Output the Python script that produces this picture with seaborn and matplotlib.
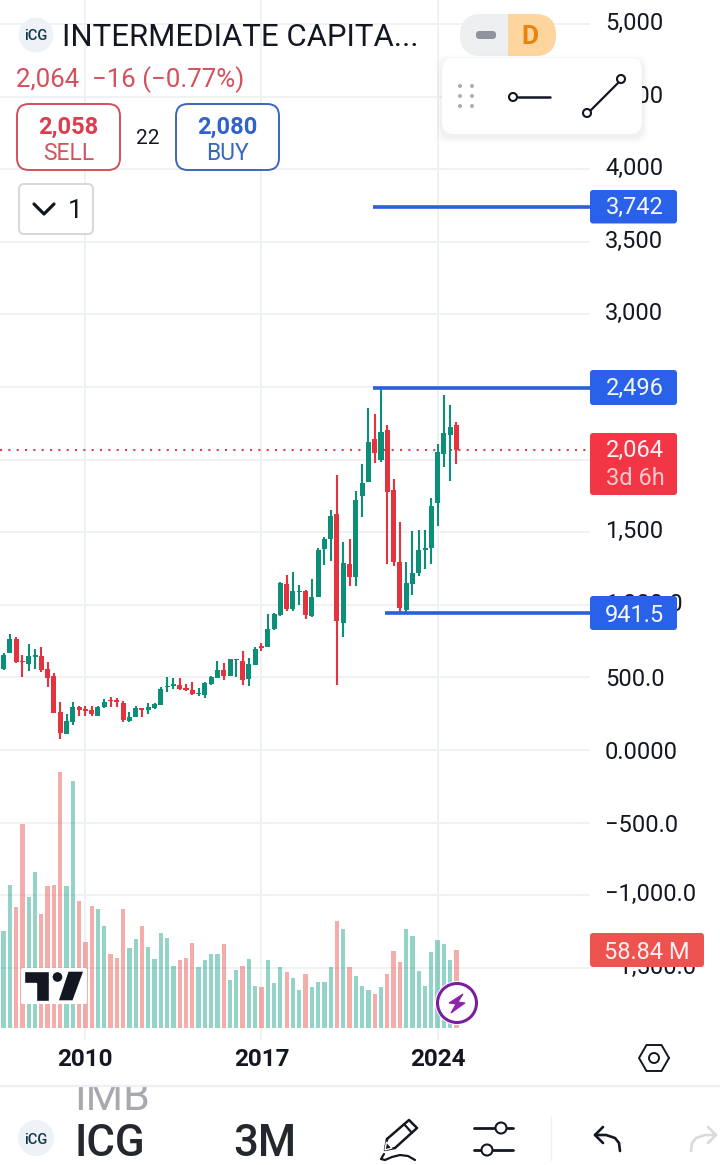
import numpy as np
import pandas as pd
import seaborn as sns
import matplotlib.pyplot as plt
from matplotlib.patches import FancyBboxPatch, Circle, Polygon, Rectangle
from matplotlib.transforms import Affine2D

# 1. Values (quarterly candles)
opens = [556, 670, 762, 613, 592, 643, 647, 556, 510, 259, 110, 195, 298, 280, 273, 236, 294, 347, 340, 326,
         202, 230, 287, 275, 287, 312, 432, 443, 445, 425, 413, 386, 381, 452, 498, 551, 512, 618, 613, 491,
         588, 719, 707, 831, 930, 1143, 969, 1086, 1097, 923, 1056, 1384, 1453, 1625, 872, 1281, 1194, 1752,
         1848, 2140, 1997, 2204, 1791, 1297, 964, 1143, 1217, 1380, 1393, 1703, 2039, 2172, 2238]
highs = [670, 799, 776, 654, 730, 693, 707, 604, 533, 331, 248, 331, 303, 303, 303, 303, 351, 363, 356, 337,
         259, 303, 289, 321, 326, 432, 500, 498, 494, 455, 468, 425, 471, 510, 613, 597, 624, 624, 682, 631,
         707, 739, 937, 941, 1159, 1205, 1224, 1136, 1102, 1178, 1389, 1465, 1653, 1894, 1430, 1453, 1784, 1970,
         2353, 2314, 2491, 2238, 1864, 1568, 1297, 1508, 1515, 1515, 1733, 2105, 2445, 2376, 2261]
lows = [551, 670, 597, 505, 546, 560, 539, 436, 257, 78, 110, 172, 236, 236, 236, 236, 292, 298, 298, 191,
        193, 230, 230, 248, 280, 310, 402, 418, 413, 409, 379, 372, 356, 448, 494, 482, 510, 505, 448, 441,
        585, 684, 707, 826, 923, 960, 960, 999, 900, 914, 1056, 1274, 1302, 448, 781, 1132, 1132, 1607,
        1848, 1979, 1986, 1281, 1270, 953, 953, 1068, 1198, 1244, 1281, 1543, 1947, 1853, 1970]
closes = [654, 762, 608, 604, 647, 654, 551, 494, 257, 119, 200, 294, 275, 271, 246, 296, 333, 337, 331, 207,
          230, 287, 275, 294, 315, 420, 441, 452, 418, 413, 383, 395, 459, 500, 551, 512, 624, 624, 482, 592,
          693, 705, 831, 937, 1148, 969, 1097, 1097, 930, 1056, 1377, 1453, 1612, 891, 1286, 1189, 1722, 1837,
          2119, 2043, 2188, 1779, 1297, 976, 1148, 1217, 1377, 1389, 1680, 2050, 2181, 2222, 2064]
volumes = [73, 108, 91, 154, 99, 118, 86, 107, 108, 193, 107, 186, 96, 65, 92, 90, 77, 56, 53, 90,
           60, 67, 77, 61, 52, 72, 68, 47, 51, 53, 64, 46, 51, 56, 56, 63, 36, 44, 47, 52,
           32, 31, 51, 34, 46, 42, 38, 29, 41, 31, 35, 35, 46, 81, 75, 46, 39, 32, 29, 26,
           31, 41, 58, 50, 75, 69, 43, 32, 57, 66, 63, 51, 58.84]

price_ticks = [5000, 4500, 4000, 3500, 3000, 2500, 2000, 1500, 1000, 500, 0, -500, -1000, -1500]
price_labels = ["5,000", "4,500", "4,000", "3,500", "3,000", "2,500", "2,000", "1,500", "1,000.0",
                "500.0", "0.0000", "\u2212500.0", "\u22121,000.0", "\u22121,500.0"]
year_ticks = [13, 41, 69]
year_labels = ["2010", "2017", "2024"]

level_values = [3742, 2496, 941.5]
level_starts = [58.7, 58.7, 60.6]
level_labels = ["3,742", "2,496", "941.5"]
last_price = 2064

GREEN = "#0B8F78"
RED = "#E5323F"
BLUE = "#2A60D8"
INK = "#131722"
GRID = "#EEF2F3"

df = pd.DataFrame({"i": range(len(opens)), "open": opens, "high": highs, "low": lows,
                   "close": closes, "volume": volumes})
df["up"] = df["close"] >= df["open"]

# 2. Figure and axes (pixel box of the chart pane: x 0-590, y 0-1040)
sns.set_theme(style="white")
plt.rcParams["font.family"] = ["Roboto", "DejaVu Sans"]
W, H = 720, 1165
fig = plt.figure(figsize=(W / 100, H / 100), dpi=100)

ax = fig.add_axes([0, (H - 1040) / H, 590 / W, 1040 / H])
ax.set_xlim(-3.6 / 6.29, (590 - 3.6) / 6.29)
ax.set_ylim(-290 / 0.1452, 750 / 0.1452)
ax.grid(True, color=GRID, lw=1.4)
ax.set_axisbelow(True)
for s in ax.spines.values():
    s.set_visible(False)

ax.yaxis.tick_right()
ax.set_yticks(price_ticks)
ax.set_yticklabels(price_labels, fontsize=17, color=INK)
ax.set_xticks(year_ticks)
ax.set_xticklabels(year_labels, fontsize=17.5, fontweight="bold", color=INK)
ax.tick_params(axis="y", length=0, pad=10.8)
ax.tick_params(axis="x", length=0, pad=6)
# the app draws labels with a comma a little higher
for lab in ax.get_yticklabels():
    if "," in lab.get_text():
        lab.set_transform(lab.get_transform() + Affine2D().translate(0, 3))

# Volume sits in its own axes, sharing the time scale
vol_ax = fig.add_axes([0, (H - 1028) / H, 590 / W, 1028 / H])
vol_ax.patch.set_alpha(0)
sns.barplot(data=df, x="i", y="volume", hue="up", palette={True: "#089981", False: "#E8423F"},
            native_scale=True, dodge=False, width=0.68, alpha=0.43, saturation=1, legend=False,
            linewidth=0, edgecolor="none", ax=vol_ax)
vol_ax.set_xlim(ax.get_xlim())
vol_ax.set_ylim(0, 1028 * 0.754)
vol_ax.axis("off")

# Candles
colors = df["up"].map({True: GREEN, False: RED})
ax.vlines(df["i"], df["low"], df["high"], colors=colors, lw=1.5, zorder=3)
ax.bar(df["i"], (df["close"] - df["open"]).abs().clip(lower=10), bottom=df[["open", "close"]].min(axis=1),
       width=0.8, color=colors, linewidth=0, edgecolor="none", zorder=4)

ax.axhline(last_price, color="#D8434F", lw=1.5, ls=(0, (1, 3)), zorder=2)
for val, start in zip(level_values, level_starts):
    ax.hlines(val, start, ax.get_xlim()[1], color=BLUE, lw=2.6, zorder=5)

# 3. App chrome on a full-figure layer in pixel coordinates
ui = fig.add_axes([0, 0, 1, 1])
ui.set_xlim(0, W)
ui.set_ylim(H, 0)
ui.axis("off")
ui.patch.set_alpha(0)


def box(x0, y0, x1, y1, r=8, fc="white", ec="none", lw=0, z=5, alpha=None):
    p = FancyBboxPatch((x0, y0), x1 - x0, y1 - y0, boxstyle=f"round,pad=0,rounding_size={r}",
                       fc=fc, ec=ec, lw=lw, zorder=z, alpha=alpha)
    ui.add_patch(p)
    return p


def txt(x, y, s, size, color=INK, ha="center", weight="normal", z=8, alpha=None):
    return ui.text(x, y, s, fontsize=size, color=color, ha=ha, va="center_baseline",
                   fontweight=weight, zorder=z, alpha=alpha)


def line(xs, ys, color=INK, lw=1.8, z=8):
    ui.plot(xs, ys, color=color, lw=lw, zorder=z, solid_capstyle="round", solid_joinstyle="round")


# header
ui.add_patch(Circle((36, 35), 17.5, fc="#EEF2F7", ec="none", zorder=6))
txt(36, 35, "iCG", 10.5, color="#12394A", weight="medium")
txt(62, 35, "INTERMEDIATE CAPITA...", 22.4, ha="left")
txt(16, 77, "2,064  \u221216 (\u22120.77%)", 18.6, color="#D4505C", ha="left")

box(17, 104, 120, 170, r=12, ec="#D2505C", lw=1.4)
txt(68.5, 125, "2,058", 17, color="#DB3F4D", weight="bold")
txt(68.5, 151, "SELL", 16.5, color="#CE5560")
txt(148, 137, "22", 15)
box(176, 104, 279, 170, r=12, ec="#3B66C0", lw=1.4)
txt(227.5, 125, "2,080", 17, color="#2F62CE", weight="bold")
txt(227.5, 151, "BUY", 16.5, color="#3868BE")

box(19, 184, 93, 234, r=5, ec="#D5D9DC", lw=1.4)
line([34, 44, 54], [204, 214, 204], lw=2.3)
txt(75, 208, "1", 19)

# D pill
box(460, 14, 556, 56, r=21, fc="#EDEFF1")
ui.add_patch(Rectangle((508, 14), 27, 42, fc="#FFD59E", ec="none", zorder=5))
box(515, 14, 556, 56, r=21, fc="#FFD59E")
box(476, 31, 496, 39, r=3.5, fc="#8F939B", z=6)
txt(530, 35, "D", 19, color="#E8830C", weight="bold")

# floating line tool bar
for k, a in zip([6, 4, 2], [0.012, 0.018, 0.025]):
    box(442 - k, 58 - k + 3, 642 + k, 134 + k + 3, r=12, fc="black", z=6, alpha=a)
box(442, 58, 642, 134, r=12, z=7)
for dx in [460, 472]:
    for dy in [86, 96, 106]:
        ui.add_patch(Circle((dx, dy), 2, fc="#A9ADB3", ec="none", zorder=8))
line([518, 550], [97, 97], lw=1.8)
line([590, 621], [111, 80], lw=1.6)
for cx, cy in [(513, 97), (587, 113), (621, 79)]:
    ui.add_patch(Circle((cx, cy), 4, fc="white", ec=INK, lw=1.5, zorder=9))

# price tags
level_boxes = [(190, 223.5), (370, 405), (596, 630)]
level_text_y = [205, 386, 613]
for (y0, y1), ty, s in zip(level_boxes, level_text_y, level_labels):
    box(590, y0, 677, y1, r=3, fc="#2962E8", z=7)
    txt(635, ty, s, 17, color="#F3F6FF")
box(590, 433, 677, 495, r=3, fc="#F23645", z=7)
txt(635, 448, "2,064", 17, color="#FFF1F1")
txt(635, 476, "3d 6h", 17, color="#FFC9CC")
box(590, 933, 704, 967, r=3, fc="#EF5350", z=7)
txt(647, 950, "58.84 M", 17, color="#FFF1F0")

# TV logo
box(21, 968, 87, 1004, r=2, z=6)
ui.add_patch(Polygon([(24, 971), (49, 971), (49, 1001), (36, 1001), (36, 983), (24, 983)], fc=INK, zorder=7))
ui.add_patch(Circle((57.5, 977), 5.5, fc=INK, zorder=7))
ui.add_patch(Polygon([(68, 971), (84, 971), (73, 1001), (58, 1001)], fc=INK, zorder=7))

# lightning badge
ui.add_patch(Circle((457, 1003), 22, fc="white", ec="none", zorder=6))
ui.add_patch(Circle((457, 1003), 19.5, fc="white", ec="#7B1FA2", lw=2.2, zorder=7))
ui.add_patch(Polygon([(463, 994), (449, 1003), (456, 1004), (451, 1013), (465, 1003), (458, 1002)],
                     fc="#8E24AA", ec="#8E24AA", lw=0.8, zorder=8))

# hexagon settings
hx = 654 + 15 * np.cos(np.arange(7) * np.pi / 3)
hy = 1058 + 15 * np.sin(np.arange(7) * np.pi / 3)
line(hx, hy, lw=1.4)
ui.add_patch(Circle((654, 1058), 5, fc="white", ec=INK, lw=1.4, zorder=9))

# bottom bar
txt(74, 1094, "IMB", 31, color="#8A8D93", ha="left", z=6, alpha=0.75)
ui.add_patch(Rectangle((0, 1071), W, 14, fc="white", ec="none", zorder=7))
line([0, W], [1085.5, 1085.5], color="#EDF0F2", lw=1.6, z=8)
ui.add_patch(Circle((36, 1138), 18, fc="#EEF2F7", ec="none", zorder=6))
txt(36, 1138, "iCG", 10.5, color="#12394A", weight="medium")
txt(74, 1140, "ICG", 31.5, color="#24272E", ha="left", weight="medium")
txt(233, 1140, "3M", 31.5, color="#24272E", ha="left", weight="medium")

# pencil
line([387, 409, 417, 395, 385, 387], [1139, 1120, 1128, 1148, 1150, 1139], lw=1.8)
line([404, 412], [1124, 1133], lw=1.6)
ui.add_patch(Polygon([(385, 1150), (386.5, 1142), (392, 1148)], fc=INK, zorder=8))
line([384, 381, 385, 392, 400, 408, 415], [1154, 1159, 1160, 1157, 1155, 1156, 1160], lw=1.6)

# sliders
line([474, 495], [1128, 1128], lw=2)
line([507, 513], [1128, 1128], lw=2)
line([474, 481], [1150, 1150], lw=2)
line([493, 513], [1150, 1150], lw=2)
for cx, cy in [(501, 1128), (487, 1150)]:
    ui.add_patch(Circle((cx, cy), 5.5, fc="white", ec=INK, lw=1.5, zorder=9))

line([551, 551], [1116, 1160], color="#EDF0F2", lw=1)

# undo / redo
line([603, 595, 603], [1127, 1135, 1143], lw=1.9)
line([595, 606, 615, 619, 620], [1135, 1135, 1138, 1143, 1151], lw=1.9)
line([708, 716, 708], [1127, 1135, 1143], color="#D8DADD", lw=1.9)
line([716, 705, 696, 692, 691], [1135, 1135, 1138, 1143, 1151], color="#D8DADD", lw=1.9)

# 4. Save
fig.savefig("out.png", dpi=100)
